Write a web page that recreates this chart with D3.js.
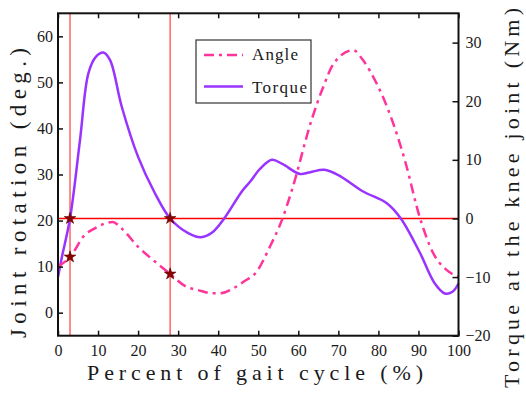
<!DOCTYPE html>
<html lang="en">
<head>
<meta charset="UTF-8">
<title>Knee angle and torque</title>
<script src="https://d3js.org/d3.v7.min.js"></script>
<style>
  body { margin: 0; background: #fff; }
</style>
</head>
<body>
<div id="chart"></div>
<script>
// knee angle (deg)
const angleX = [0, 3, 6.7, 9.2, 11.5, 13.6, 16, 20, 24.2, 28, 32.1, 35, 38.5, 40.4, 43.8, 46.3, 49.6, 52.9, 55.9, 58.4, 63.3, 66, 69, 73.7, 76, 78.7, 83.7, 86.6, 90.4, 93.7, 97, 100];
const angleY = [10, 12.1, 16.9, 18.3, 19.3, 19.7, 18.2, 14.3, 11.1, 8.4, 5.6, 4.9, 4.2, 4.2, 5.3, 6.7, 8.9, 14.3, 20.1, 26.6, 41.8, 48.5, 54.3, 57, 55, 51.2, 41.1, 33.1, 20.5, 12.9, 9.3, 7.8];

// knee torque (Nm)
const torqueX = [0, 1, 3, 5.5, 7.6, 9.5, 11.3, 13, 15.9, 20, 24.2, 28, 32.5, 35.7, 38.5, 41.5, 45.9, 48, 50.5, 53.4, 56, 60.4, 63, 66.5, 70, 76.2, 82.1, 85.6, 90.4, 94, 96.6, 98.5, 100];
const torqueY = [-10, -6.5, 0, 13.4, 24.8, 27.6, 28.3, 27, 19.1, 10.5, 4.3, 0, -2.5, -3.2, -2.4, 0, 4.6, 6.3, 8.5, 10, 9.3, 7.6, 7.9, 8.3, 7.4, 4.6, 2.6, 0, -5.9, -11, -12.8, -12.5, -11.1];

const markX = [3, 28];          // vertical guide lines
const torqueRef = 0;            // horizontal guide line
const stars = [
  { x: 3, axis: "right", v: 0 },
  { x: 3, axis: "left", v: 12.1 },
  { x: 28, axis: "right", v: 0 },
  { x: 28, axis: "left", v: 8.4 }
];

const xTicks = [0, 10, 20, 30, 40, 50, 60, 70, 80, 90, 100];
const leftTicks = [0, 10, 20, 30, 40, 50, 60];
const rightTicks = [-20, -10, 0, 10, 20, 30];

const W = 526, H = 394;
const L = 58, R = 458.5, T = 13.3, B = 335.7;
const serif = '"Liberation Serif"';

const svg = d3.select("#chart").append("svg")
  .attr("width", W).attr("height", H);

const x = d3.scaleLinear().domain([0, 100]).range([L, R]);
const yL = d3.scaleLinear().domain([-5, 65]).range([B, T]);
const yR = d3.scaleLinear().domain([-20, 35]).range([B, T]);

// guide lines
svg.selectAll(".vline").data(markX).enter().append("line")
  .attr("x1", d => x(d)).attr("x2", d => x(d))
  .attr("y1", T).attr("y2", B)
  .attr("stroke", "#ff5a5a").attr("stroke-width", 1.4);

svg.append("line")
  .attr("x1", L).attr("x2", R)
  .attr("y1", yR(torqueRef)).attr("y2", yR(torqueRef))
  .attr("stroke", "#ff0000").attr("stroke-width", 1.6);

// curves
const angleLine = d3.line().x(d => x(d[0])).y(d => yL(d[1])).curve(d3.curveMonotoneX);
const torqueLine = d3.line().x(d => x(d[0])).y(d => yR(d[1])).curve(d3.curveCatmullRom.alpha(0.5));

svg.append("path")
  .datum(torqueX.map((v, i) => [v, torqueY[i]]))
  .attr("d", torqueLine)
  .attr("fill", "none").attr("stroke", "#9933ff").attr("stroke-width", 2.5);

svg.append("path")
  .datum(angleX.map((v, i) => [v, angleY[i]]))
  .attr("d", angleLine)
  .attr("fill", "none").attr("stroke", "#ff3399").attr("stroke-width", 2.5)
  .attr("stroke-dasharray", "10,5,3,5");

// stars
svg.selectAll(".star").data(stars).enter().append("path")
  .attr("d", d3.symbol(d3.symbolStar, 42))
  .attr("transform", d => `translate(${x(d.x)},${d.axis === "left" ? yL(d.v) : yR(d.v)})`)
  .attr("fill", "#8b0000").attr("stroke", "#5c0000").attr("stroke-width", 0.6);

// axes
function style(g) {
  g.attr("font-family", null);
  g.select(".domain").remove();
  g.selectAll("line").attr("stroke", "#111").attr("stroke-width", 1.5);
  g.selectAll("text").style("font-family", serif).attr("font-size", 16).attr("fill", "#1a1a1a");
}

svg.append("g").attr("transform", `translate(0,${B})`)
  .call(d3.axisBottom(x).tickValues(xTicks).tickSize(-5).tickPadding(9))
  .call(style);

svg.append("g").attr("transform", `translate(0,${T})`)
  .call(d3.axisTop(x).tickValues(xTicks).tickSize(-5).tickFormat(""))
  .call(style);

svg.append("g").attr("transform", `translate(${L},0)`)
  .call(d3.axisLeft(yL).tickValues(leftTicks).tickSize(-5).tickPadding(5))
  .call(style);

svg.append("g").attr("transform", `translate(${R},0)`)
  .call(d3.axisRight(yR).tickValues(rightTicks).tickSize(-6).tickPadding(7))
  .call(style);

svg.append("rect")
  .attr("x", L).attr("y", T).attr("width", R - L).attr("height", B - T)
  .attr("fill", "none").attr("stroke", "#111").attr("stroke-width", 2);

// axis titles
svg.append("text")
  .attr("x", 87).attr("y", 380)
  .style("font-family", serif)
  .attr("font-size", 22).attr("fill", "#1a1a1a")
  .attr("textLength", 336).attr("lengthAdjust", "spacing")
  .text("Percent of gait cycle (%)");

svg.append("text")
  .attr("transform", "translate(26,338) rotate(-90)")
  .style("font-family", serif)
  .attr("font-size", 23).attr("fill", "#1a1a1a")
  .attr("textLength", 290).attr("lengthAdjust", "spacing")
  .text("Joint rotation (deg.)");

svg.append("text")
  .attr("transform", "translate(519,388) rotate(-90)")
  .style("font-family", serif)
  .attr("font-size", 22).attr("fill", "#1a1a1a")
  .attr("textLength", 380).attr("lengthAdjust", "spacing")
  .text("Torque at the knee joint (Nm)");

// legend
const lg = svg.append("g");
lg.append("rect")
  .attr("x", 196).attr("y", 40).attr("width", 115).attr("height", 63)
  .attr("fill", "#fff").attr("stroke", "#333").attr("stroke-width", 1.2);
lg.append("line")
  .attr("x1", 204).attr("x2", 243).attr("y1", 55).attr("y2", 55)
  .attr("stroke", "#ff3399").attr("stroke-width", 2.5).attr("stroke-dasharray", "10,5,3,5");
lg.append("line")
  .attr("x1", 204).attr("x2", 243).attr("y1", 86.5).attr("y2", 86.5)
  .attr("stroke", "#9933ff").attr("stroke-width", 2.5);
lg.append("text").attr("x", 252).attr("y", 60).attr("font-size", 17).style("font-family", serif)
  .attr("fill", "#1a1a1a").attr("textLength", 46).attr("lengthAdjust", "spacing").text("Angle");
lg.append("text").attr("x", 252).attr("y", 93).attr("font-size", 17).style("font-family", serif)
  .attr("fill", "#1a1a1a").attr("textLength", 55).attr("lengthAdjust", "spacing").text("Torque");
</script>
</body>
</html>
